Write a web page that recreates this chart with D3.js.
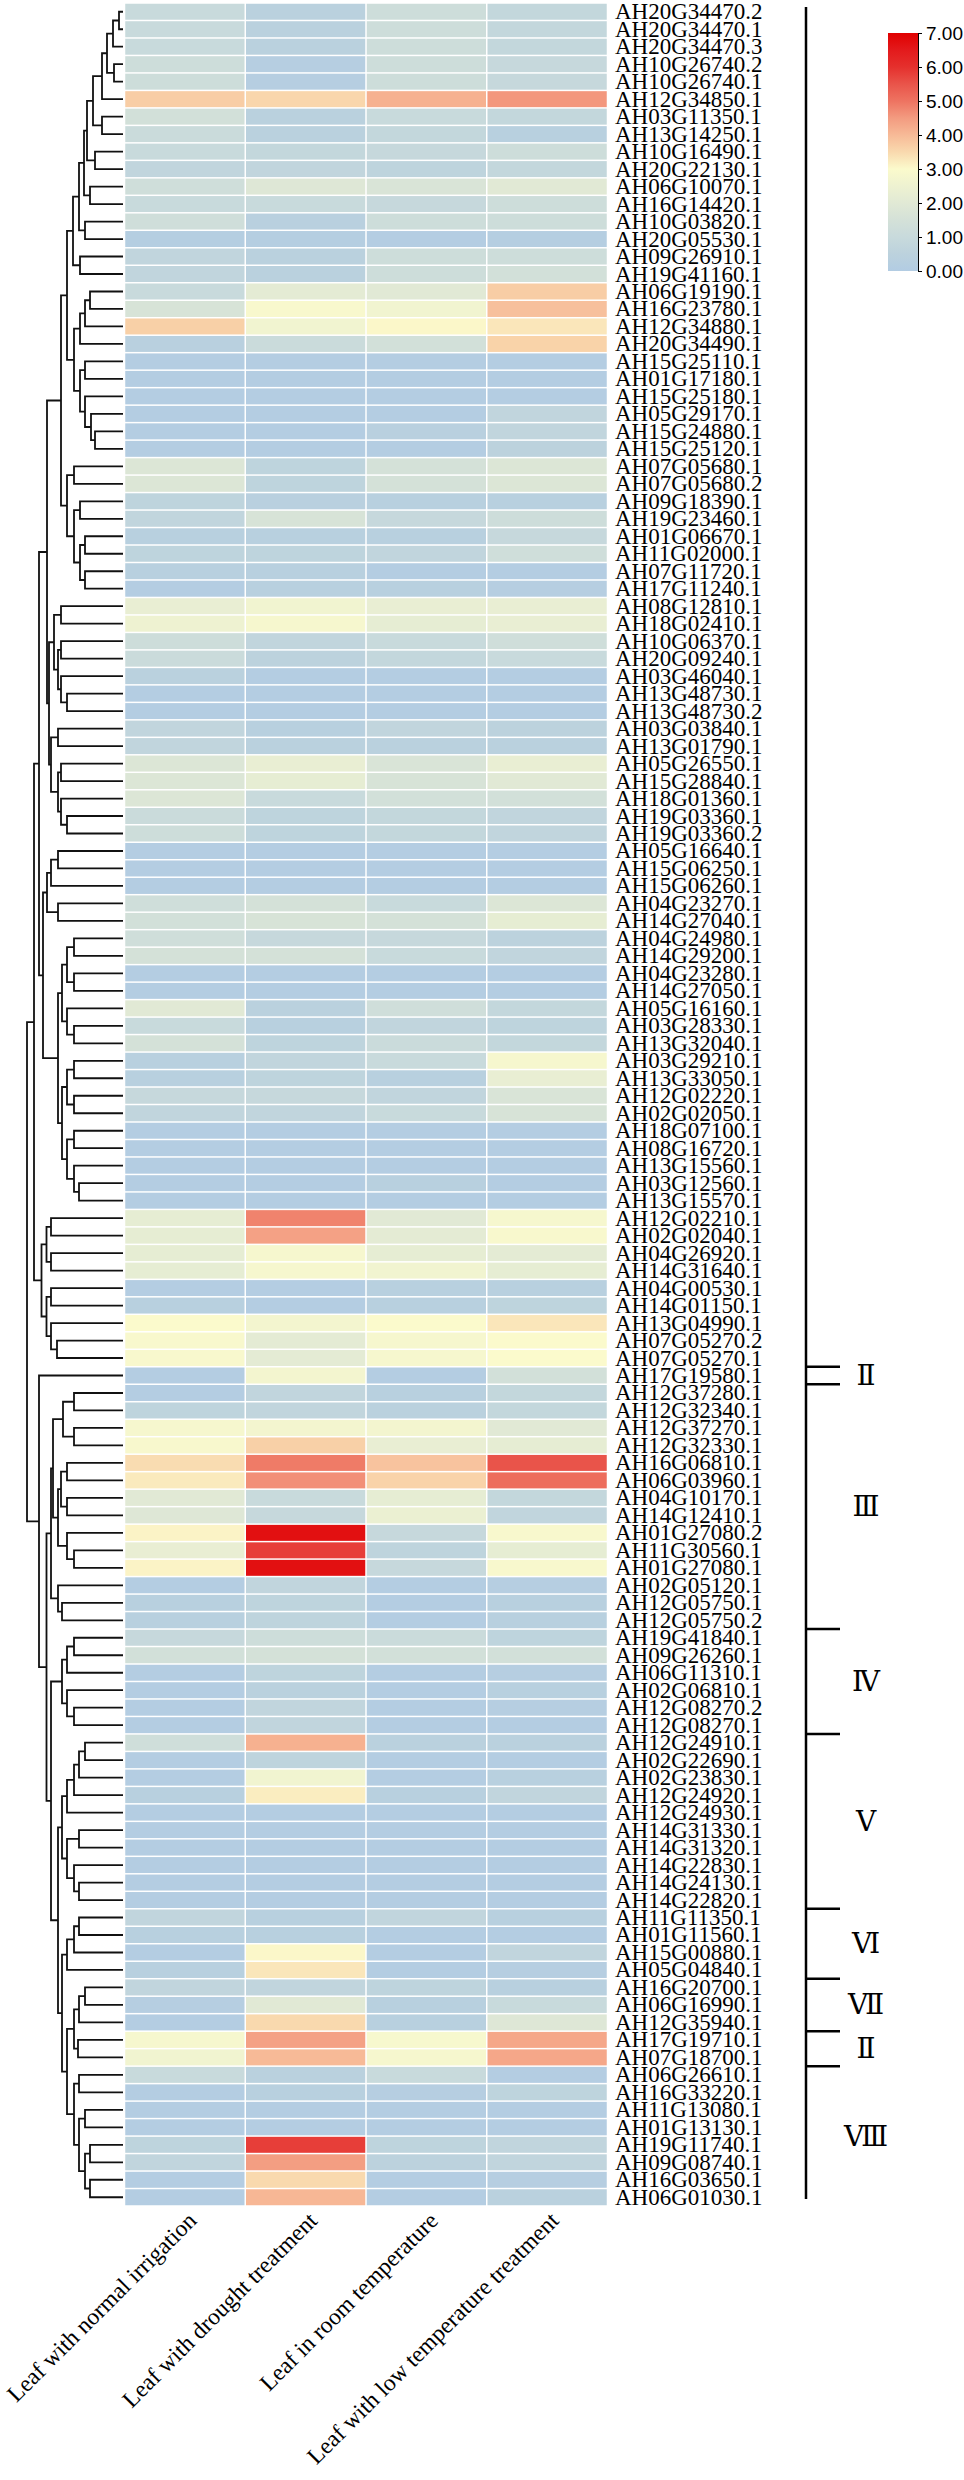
<!DOCTYPE html>
<html><head><meta charset="utf-8">
<script src="https://cdn.jsdelivr.net/npm/d3@7"></script>
<style>body{margin:0;background:#fff}</style>
</head><body>
<script>
// ---------------- data ----------------
const genes = ["AH20G34470.2","AH20G34470.1","AH20G34470.3","AH10G26740.2","AH10G26740.1","AH12G34850.1","AH03G11350.1","AH13G14250.1","AH10G16490.1","AH20G22130.1",
"AH06G10070.1","AH16G14420.1","AH10G03820.1","AH20G05530.1","AH09G26910.1","AH19G41160.1","AH06G19190.1","AH16G23780.1","AH12G34880.1","AH20G34490.1",
"AH15G25110.1","AH01G17180.1","AH15G25180.1","AH05G29170.1","AH15G24880.1","AH15G25120.1","AH07G05680.1","AH07G05680.2","AH09G18390.1","AH19G23460.1",
"AH01G06670.1","AH11G02000.1","AH07G11720.1","AH17G11240.1","AH08G12810.1","AH18G02410.1","AH10G06370.1","AH20G09240.1","AH03G46040.1","AH13G48730.1",
"AH13G48730.2","AH03G03840.1","AH13G01790.1","AH05G26550.1","AH15G28840.1","AH18G01360.1","AH19G03360.1","AH19G03360.2","AH05G16640.1","AH15G06250.1",
"AH15G06260.1","AH04G23270.1","AH14G27040.1","AH04G24980.1","AH14G29200.1","AH04G23280.1","AH14G27050.1","AH05G16160.1","AH03G28330.1","AH13G32040.1",
"AH03G29210.1","AH13G33050.1","AH12G02220.1","AH02G02050.1","AH18G07100.1","AH08G16720.1","AH13G15560.1","AH03G12560.1","AH13G15570.1","AH12G02210.1",
"AH02G02040.1","AH04G26920.1","AH14G31640.1","AH04G00530.1","AH14G01150.1","AH13G04990.1","AH07G05270.2","AH07G05270.1","AH17G19580.1","AH12G37280.1",
"AH12G32340.1","AH12G37270.1","AH12G32330.1","AH16G06810.1","AH06G03960.1","AH04G10170.1","AH14G12410.1","AH01G27080.2","AH11G30560.1","AH01G27080.1",
"AH02G05120.1","AH12G05750.1","AH12G05750.2","AH19G41840.1","AH09G26260.1","AH06G11310.1","AH02G06810.1","AH12G08270.2","AH12G08270.1","AH12G24910.1",
"AH02G22690.1","AH02G23830.1","AH12G24920.1","AH12G24930.1","AH14G31330.1","AH14G31320.1","AH14G22830.1","AH14G24130.1","AH14G22820.1","AH11G11350.1",
"AH01G11560.1","AH15G00880.1","AH05G04840.1","AH16G20700.1","AH06G16990.1","AH12G35940.1","AH17G19710.1","AH07G18700.1","AH06G26610.1","AH16G33220.1",
"AH11G13080.1","AH01G13130.1","AH19G11740.1","AH09G08740.1","AH16G03650.1","AH06G01030.1"];

const conditions = ["Leaf with normal irrigation","Leaf with drought treatment","Leaf in room temperature","Leaf with low temperature treatment"];

const normalIrrigation = [1.0,1.0,1.0,1.2,1.2,3.7,1.4,1.1,1.0,0.7, 1.3,1.0,1.3,0.15,0.7,0.7,1.0,1.6,3.65,0.35,
0.1,0.1,0.1,0.1,0.1,0.1,1.8,1.8,0.6,0.7, 0.3,0.6,0.3,0.1,2.3,2.5,1.2,1.1,0.4,0.1,
0.1,0.7,0.7,1.8,1.8,1.8,1.1,1.2,0.1,0.1, 0.1,1.3,1.4,1.3,1.5,0.1,0.1,2.0,1.0,1.5,
0.3,0.3,0.9,0.7,0.1,0.1,0.1,0.1,0.1,2.2, 2.2,2.2,2.2,0.1,0.3,3.0,2.9,2.9,0.1,0.1,
0.6,2.8,2.9,3.45,3.25,2.0,1.9,3.1,2.3,3.1, 0.1,0.3,0.3,0.9,1.4,0.1,0.1,0.1,0.1,1.3,
0.1,0.1,0.3,0.1,0.1,0.1,0.1,0.1,0.1,0.7, 0.3,0.1,0.3,0.7,0.2,0.1,2.8,2.6,1.0,0.1,
0.1,0.1,0.6,0.7,0.1,0.1];
const droughtTreatment = [0.4,0.4,0.4,0.2,0.2,3.55,0.4,0.4,0.8,0.7, 1.9,1.0,0.35,0.15,0.4,0.4,2.1,2.9,2.6,1.1,
0.1,0.1,0.1,0.1,0.1,0.1,0.6,0.6,0.35,1.6, 0.3,0.6,0.3,0.3,2.6,2.8,0.7,0.5,0.1,0.1,
0.1,0.3,0.4,2.3,2.2,1.0,0.6,0.6,0.1,0.1, 0.1,1.5,1.6,0.9,1.5,0.1,0.1,0.4,0.3,0.6,
0.7,0.6,0.9,0.7,0.1,0.1,0.1,0.1,0.1,4.8, 4.4,2.8,2.8,0.1,0.1,2.7,2.1,2.1,2.7,0.7,
0.7,2.7,3.65,4.9,4.65,1.0,0.9,6.7,5.8,6.7, 0.7,0.6,0.6,1.2,1.5,0.6,0.4,0.7,0.7,4.15,
0.6,2.6,3.2,0.1,0.1,0.1,0.1,0.1,0.1,0.3, 0.3,3.05,3.3,0.7,2.0,3.5,4.4,4.0,0.4,0.3,
0.1,0.1,5.8,4.45,3.5,4.05];
const roomTemperature = [1.2,1.2,1.2,1.2,1.2,4.15,1.0,0.8,0.9,0.6, 1.7,0.9,1.2,0.1,1.2,1.2,2.0,2.6,3.05,1.4,
0.1,0.1,0.1,0.1,0.35,0.1,1.5,1.5,0.3,0.9, 0.3,0.7,0.1,0.3,2.3,2.2,1.0,0.8,0.1,0.1,
0.1,0.7,0.4,1.7,1.6,1.4,0.8,0.8,0.1,0.1, 0.1,1.0,1.5,0.9,1.0,0.1,0.1,1.3,0.7,1.1,
1.0,0.3,0.7,1.0,0.1,0.1,0.1,0.3,0.1,2.0, 2.1,2.2,2.6,0.3,0.3,3.0,2.8,2.8,0.1,0.3,
0.4,2.7,2.3,3.85,3.6,2.2,2.4,0.9,0.6,0.9, 0.1,0.1,0.1,1.1,1.4,0.1,0.1,0.1,0.1,0.4,
0.1,0.1,0.3,0.1,0.1,0.1,0.1,0.1,0.1,0.7, 0.1,0.1,0.1,0.6,0.3,0.3,2.85,2.8,1.0,0.2,
0.1,0.1,0.6,0.5,0.1,0.1];
const lowTemperature = [0.8,0.8,0.8,0.9,0.9,4.55,0.8,0.3,1.2,0.8, 2.0,1.2,1.2,0.15,1.2,1.4,3.7,3.9,3.3,3.6,
0.1,0.1,0.1,0.7,0.7,0.5,1.8,1.8,0.3,1.2, 0.9,1.3,0.1,0.2,2.3,2.3,1.3,1.0,0.1,0.1,
0.1,0.5,0.4,2.3,2.0,1.4,0.7,0.7,0.1,0.1, 0.1,1.8,2.2,0.5,0.7,0.1,0.1,0.8,0.6,0.8,
2.8,2.3,1.7,1.6,0.1,0.1,0.1,0.1,0.1,2.8, 2.9,2.1,2.2,0.3,0.6,3.3,3.0,3.0,1.4,0.8,
0.8,2.0,2.2,5.5,5.1,0.8,0.7,2.9,2.2,2.9, 0.2,0.3,0.3,0.6,1.4,0.2,0.3,0.2,0.1,0.4,
0.1,0.3,0.7,0.1,0.1,0.1,0.1,0.1,0.1,0.3, 0.1,0.7,0.2,0.3,1.0,1.9,4.3,4.3,0.1,0.6,
0.1,0.1,0.7,0.7,0.2,0.4];

const legendTicks = [0,1,2,3,4,5,6,7];
const colorDomain = [0,0.5,1,1.5,2,2.5,3,3.5,4,4.5,5,5.5,6,6.5,7];
const colorRange = ["#b2cce3","#bcd2dd","#c8dadc","#d4e1d8","#e1e9d5","#eef2d1","#fbfacc","#f9d9ae",
                    "#f7ba97","#f39b80","#ee7361","#e9544a","#e5302d","#e31a1c","#e00000"];

const groupLabels = ["Ⅱ","Ⅲ","Ⅳ","Ⅴ","Ⅵ","Ⅶ","Ⅱ","Ⅷ"];
const groupFirst = ["AH17G19580.1","AH12G37280.1","AH19G41840.1","AH12G24910.1","AH11G11350.1","AH16G20700.1","AH17G19710.1","AH06G26610.1"];
const groupLast  = ["AH17G19580.1","AH12G05750.2","AH12G08270.1","AH14G22820.1","AH05G04840.1","AH12G35940.1","AH07G18700.1","AH06G01030.1"];

// row clustering: [left, right, mergeHeight]; leaves are 1-based row numbers
const clA = [[[[[[[[[1,2,4],3,10],[4,5,9],16],6,21],[7,8,21],30],[9,10,28],36],[11,12,33],39],[13,14,38],44],[15,16,43],50];
const clB = [[[[17,18,33],19,38],20,43],[[21,22,38],[23,[24,[25,26,28],32],38],43],49];
const clC = [[27,28,49],[[29,30,43],[[31,32,38],[33,34,38],43],49],56];
const clD = [[[35,36,62],[[37,38,62],[39,[40,41,56],62],65],69],[[42,43,65],[[44,45,62],[46,[47,48,56],62],65],72],74];
const clE = [[[[49,50,65],51,72],[52,53,65],76],
  [[[[54,55,49],[56,57,49],56],[58,[59,60,49],56],61],[[[61,62,49],[63,64,49],56],[[65,66,49],[67,[68,69,44],49],56],61],65],80];
const clF = [[[70,71,72],[72,73,72],76.5],[[74,75,72],[76,[77,78,66],72],76.5],81.5];
const clIII = [[[[80,81,49],[82,83,49],60],[[[84,85,56],[86,87,56],62],[88,[89,90,49],56],65],70],[91,[92,93,61],65],72];
const clIV = [[[94,95,49],96,56],[97,[98,99,49],56],61];
const clV = [[[[[100,101,38],102,44],103,49],104,56],[[105,106,44],[107,[108,109,44],49],56],61];
const clVI = [[[110,111,44],112,49],113,56];
const clVII = [[114,115,38],116,44];
const clII = [117,118,45];
const clVIII = [[119,120,44],[[121,122,38],[[123,124,33],[125,126,33],38],44],49];
const tree = [
  [[[[[clA, clB, 56], clC, 62], clD, 76], clE, 84], clF, 89],
  [79, [clIII, [clIV, [clV, [clVI, [[clVII, clII, 49], clVIII, 56], 61], 65], 72], 76.5], 84],
  96];

// ---------------- drawing ----------------
const W = 964, H = 2480;
const svg = d3.select("body").append("svg").attr("width", W).attr("height", H)
  .style("font-family", "'Times New Roman','Liberation Serif',serif");

const values = [normalIrrigation, droughtTreatment, roomTemperature, lowTemperature];
const y = d3.scaleBand().domain(genes).range([3, 2206]);
const x = d3.scaleBand().domain(conditions).range([124.5, 607.5]);
const color = d3.scaleLinear().domain(colorDomain).range(colorRange).interpolate(d3.interpolateRgb).clamp(true);

const cells = [];
conditions.forEach((c, j) => genes.forEach((g, i) => cells.push({c, g, v: values[j][i]})));
svg.append("g").selectAll("rect").data(cells).join("rect")
  .attr("x", d => x(d.c) + 0.75).attr("y", d => y(d.g) + 0.75)
  .attr("width", x.bandwidth() - 1.5).attr("height", y.bandwidth() - 1.5)
  .attr("fill", d => color(d.v));

// row labels
svg.append("g").selectAll("text").data(genes).join("text")
  .attr("x", 615).attr("y", d => y(d) + y.bandwidth() / 2)
  .attr("dominant-baseline", "central")
  .attr("font-size", 23).attr("fill", "#000").text(d => d);

// column labels
svg.append("g").selectAll("text").data(conditions).join("text")
  .attr("transform", d => `translate(${x(d) + x.bandwidth() / 2 + 13},2222) rotate(-45)`)
  .attr("text-anchor", "end").attr("font-size", 23.5).text(d => d);

// dendrogram
const hx = d3.scaleLinear().domain([0, 96]).range([123, 27]);
const dg = svg.append("g").attr("fill", "none").attr("stroke", "#111").attr("stroke-width", 1.8);
function layout(n) {
  if (typeof n === "number") { const g = genes[n - 1]; return {y: y(g) + y.bandwidth() / 2, h: 0}; }
  const a = layout(n[0]), b = layout(n[1]);
  const node = {y: (a.y + b.y) / 2, h: n[2]};
  const xn = hx(node.h);
  dg.append("path").attr("d", `M${hx(a.h)},${a.y}H${xn}V${b.y}H${hx(b.h)}`);
  return node;
}
layout(tree);

// group bracket
const br = svg.append("g").attr("stroke", "#000").attr("stroke-width", 2.5);
br.append("line").attr("x1", 806).attr("x2", 806).attr("y1", 7).attr("y2", 2199);
groupFirst.forEach((g, i) => {
  br.append("line").attr("x1", 806).attr("x2", 840).attr("y1", y(g)).attr("y2", y(g));
  const mid = (y(g) + y(groupLast[i]) + y.bandwidth()) / 2;
  svg.append("text").attr("x", 866).attr("y", mid).attr("text-anchor", "middle")
    .attr("dominant-baseline", "central").attr("font-size", 28)
    .style("font-family", "'DejaVu Serif','Noto Sans CJK SC',serif").text(groupLabels[i]);
});

// colour legend
const ly = d3.scaleLinear().domain([0, 7]).range([271, 33]);
const grad = svg.append("defs").append("linearGradient").attr("id", "lg")
  .attr("x1", 0).attr("y1", 1).attr("x2", 0).attr("y2", 0);
colorDomain.forEach((v, i) => grad.append("stop").attr("offset", v / 7).attr("stop-color", colorRange[i]));
svg.append("rect").attr("x", 888).attr("y", 33).attr("width", 30).attr("height", 238).attr("fill", "url(#lg)");
const ax = svg.append("g").attr("transform", "translate(918,0)")
  .call(d3.axisRight(ly).tickValues(legendTicks).tickFormat(d3.format(".2f")).tickSize(4).tickPadding(4));
ax.select(".domain").attr("stroke", "#000").attr("stroke-width", 1);
ax.selectAll(".tick line").attr("stroke", "#000");
ax.selectAll("text").attr("font-size", 19).attr("fill", "#000")
  .style("font-family", "Arial,'Liberation Sans',sans-serif");
</script>
</body></html>
